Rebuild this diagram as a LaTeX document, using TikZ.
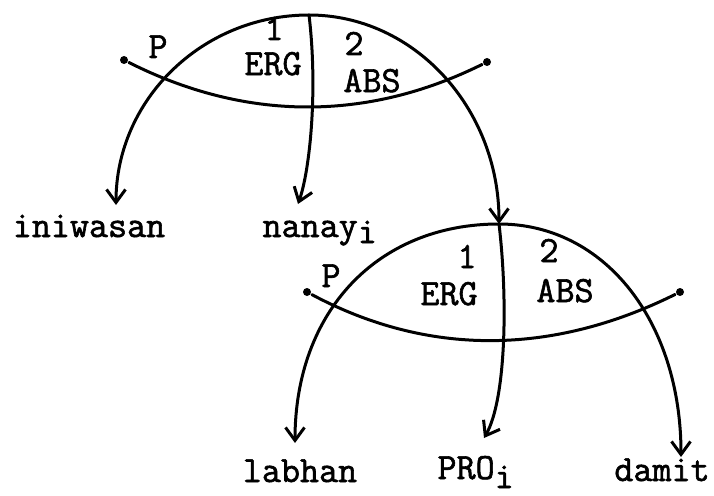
\documentclass[tikz,border=0pt]{standalone}
\usepackage{fontspec}
\newfontfamily\twfont{Latin Modern Mono}[FakeBold=1.6]
\usetikzlibrary{arrows.meta}
\begin{document}
\begin{tikzpicture}[x=1pt,y=-1pt,
  line width=3pt, line cap=round,
  arr/.style={-{Straight Barb[length=13pt,width=19pt,line width=3pt]}},
  lbl/.style={font=\twfont\fontsize{37}{37}\selectfont, inner sep=0pt, anchor=base},
  endpt/.style={fill, circle, inner sep=0pt, minimum size=8pt}]
\useasboundingbox (0,0) rectangle (714,495);

% ---------- upper stratal diagram ----------
\coordinate (A1) at (309,15);
\node[endpt] (L1) at (124,60) {};
\node[endpt] (R1) at (487,62) {};
\draw (L1) .. controls (245,121) and (366,122) .. (R1);

\node[lbl] (P1)   at (158,58) {P};
\node[lbl] (one1) at (274,40) {1};
\node[lbl] (erg1) at (273,75) {ERG};
\node[lbl] (two1) at (354,55) {2};
\node[lbl] (abs1) at (372,92) {ABS};

\node[lbl] (ini) at (89,237) {iniwasan};
\node[lbl,anchor=base west] (nan) at (261,237) {nanay\raisebox{-6pt}{i}};

\coordinate (tIni) at (116,205);
\coordinate (tNan) at (298,204);
\coordinate (A2) at (499,224);

\draw[arr] (A1) .. controls (202,15) and (116,100) .. (tIni);
\draw[arr] (A1) .. controls (318,90) and (310,170) .. (tNan);
\draw[arr] (A1) .. controls (414,15) and (499,108) .. (A2);

% ---------- lower stratal diagram ----------
\node[endpt] (L2) at (307,292) {};
\node[endpt] (R2) at (680,292) {};
\draw (L2) .. controls (427,356) and (551,356) .. (R2);

\node[lbl] (P2)   at (331,287) {P};
\node[lbl] (one2) at (467,268) {1};
\node[lbl] (erg2) at (449,305) {ERG};
\node[lbl] (two2) at (549,262) {2};
\node[lbl] (abs2) at (565,302) {ABS};

\node[lbl] (lab) at (300,482) {labhan};
\node[lbl,anchor=base west] (pro) at (436,479) {PRO\raisebox{-9pt}{i}};
\node[lbl] (dam) at (662,481) {damit};

\coordinate (tLab) at (295,443);
\coordinate (tPro) at (484,438);
\coordinate (tDam) at (681,457);

\draw[arr] (A2) .. controls (377,224) and (295,312) .. (tLab);
\draw[arr] (A2) .. controls (508,300) and (506,400) .. (tPro);
\draw[arr] (A2) .. controls (605,224) and (681,322) .. (tDam);
\end{tikzpicture}
\end{document}
